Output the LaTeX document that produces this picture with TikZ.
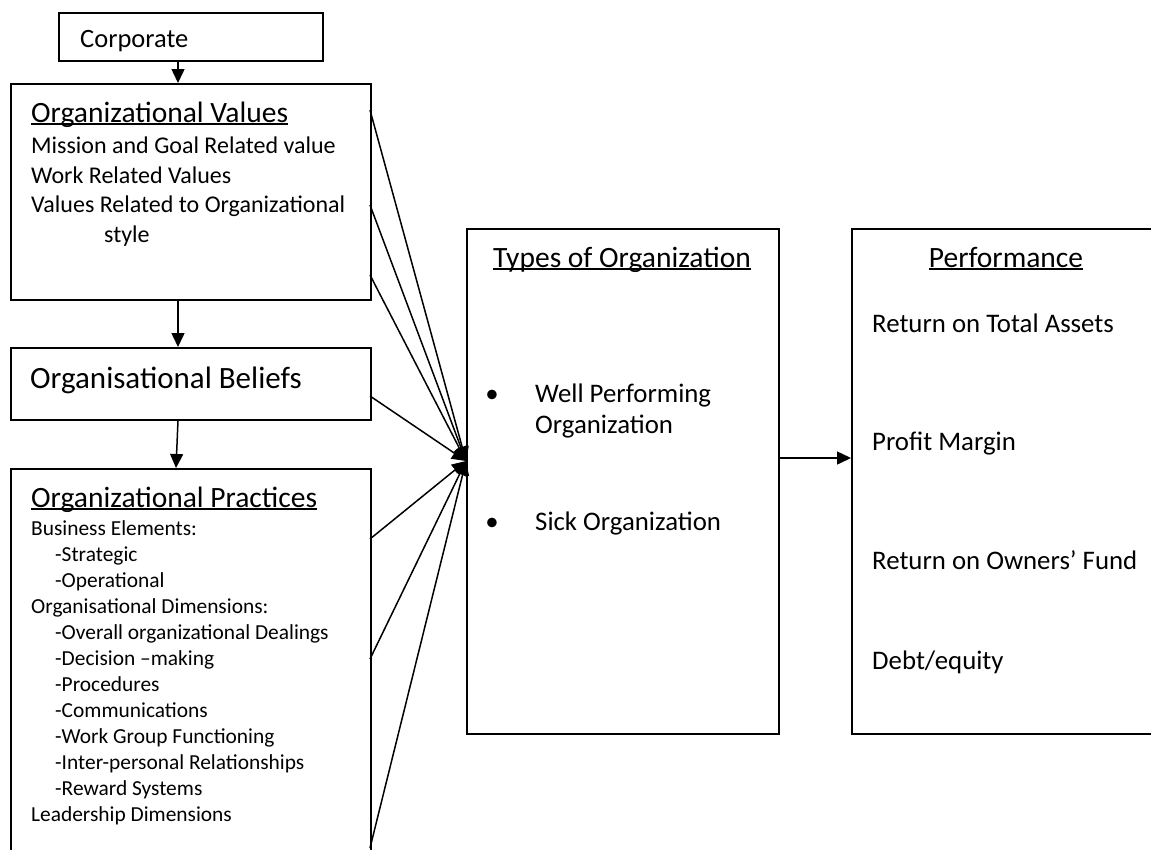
\documentclass[tikz,border=0pt]{standalone}
\usepackage{fontspec}
\setmainfont{Carlito}
\usetikzlibrary{arrows.meta,positioning}
\newcommand{\thickul}[1]{\leavevmode\setbox0\hbox{#1}\rlap{\copy0}\rule[-3pt]{\wd0}{1.6pt}}
\tikzset{>={Triangle[length=14pt,width=13pt]}}
\tikzset{%
  box/.style={draw, line width=1.5pt, inner sep=0pt, anchor=north west},
  txt/.style={anchor=base west, inner sep=0pt, font=\fontsize{24}{29}\selectfont},
  bigtxt/.style={anchor=base west, inner sep=0pt, font=\fontsize{26.8}{32}\selectfont},
  head/.style={anchor=base west, inner sep=0pt, font=\fontsize{29.5}{35}\selectfont},
  small/.style={anchor=base west, inner sep=0pt, font=\fontsize{21.4}{26}\selectfont},
  link/.style={->, line width=1.5pt},
}

\begin{document}
\begin{tikzpicture}[x=1pt, y=-1pt]

  \useasboundingbox (0,0) rectangle (1151,849);
  \clip (0,0) rectangle (1151,849);

  % the boxes
  \node[box, minimum width=264pt, minimum height=48pt] (corp) at (58,12) {};
  \node[box, minimum width=360pt, minimum height=216pt] (values) at (10,83) {};
  \node[box, minimum width=360pt, minimum height=72pt] (beliefs) at (10,347) {};
  \node[box, minimum width=360pt, minimum height=420pt] (practices) at (10,468) {};
  \node[box, minimum width=312pt, minimum height=505pt] (types) at (466,228) {};
  \node[box, minimum width=330pt, minimum height=505pt] (perf) at (851,228) {};

  % corporate
  \node[bigtxt, font=\fontsize{26.5}{32}\selectfont] (corptxt) at (80,47) {Corporate};

  % values
  \node[head] (valhead) at (31,122) {\thickul{Organizational Values}};
  \node[txt] (val1) at (31,153) {Mission and Goal Related value};
  \node[txt] (val2) at (31,183) {Work Related Values};
  \node[txt] (val3) at (31,212) {Values Related to Organizational};
  \node[txt] (val4) at (104,242) {style};

  % beliefs
  \node[head, font=\fontsize{31}{36}\selectfont] (belhead) at (30,388) {Organisational Beliefs};

  % practices
  \node[head] (prahead) at (31,507) {\thickul{Organizational Practices}};
  \node[small] (pra1) at (31,535) {Business Elements:};
  \node[small] (pra2) at (55,561) {-Strategic};
  \node[small] (pra3) at (55,587) {-Operational};
  \node[small] (pra4) at (31,613) {Organisational Dimensions:};
  \node[small] (pra5) at (55,639) {-Overall organizational Dealings};
  \node[small] (pra6) at (55,665) {-Decision –making};
  \node[small] (pra7) at (55,691) {-Procedures};
  \node[small] (pra8) at (55,717) {-Communications};
  \node[small] (pra9) at (55,743) {-Work Group Functioning};
  \node[small] (pra10) at (55,769) {-Inter-personal Relationships};
  \node[small] (pra11) at (55,795) {-Reward Systems};
  \node[small] (pra12) at (31,821) {Leadership Dimensions};

  % types of organization
  \node[head, anchor=base] (typhead) at (622,267) {\thickul{Types of Organization}};
  \node[bigtxt, anchor=base] (dot1) at (492,402) {\textbullet};
  \node[bigtxt] (typ1) at (535,402) {Well Performing};
  \node[bigtxt] (typ2) at (535,433) {Organization};
  \node[bigtxt, anchor=base] (dot2) at (492,530) {\textbullet};
  \node[bigtxt] (typ3) at (535,530) {Sick Organization};

  % performance
  \node[head, anchor=base] (perfhead) at (1006,267) {\thickul{Performance}};
  \node[bigtxt] (perf1) at (872,332) {Return on Total Assets};
  \node[bigtxt] (perf2) at (872,450) {Profit Margin};
  \node[bigtxt] (perf3) at (872,569) {Return on Owners’ Fund};
  \node[bigtxt] (perf4) at (872,669) {Debt/equity};

  % where the arrows leave and meet
  \coordinate (hub) at (466,461);
  \coordinate (v1) at (370,110);
  \coordinate (v2) at (370,205);
  \coordinate (v3) at (370,275);
  \coordinate (b1) at (370,396);
  \coordinate (p1) at (370,539);
  \coordinate (p2) at (370,659);
  \coordinate (p3) at (370,848);
  \coordinate (tmid) at (778,458);

  % down the left column
  \draw[link] (corp.south -| 178,0) -- (values.north -| 178,0);
  \draw[link] (values.south -| 178,0) -- (beliefs.north -| 178,0);
  \draw[link] (beliefs.south -| 178,0) -- (practices.north -| 176,0);

  % into the types box
  \foreach \src in {v1,v2,v3,b1,p1,p2,p3}
    \draw[link] (\src) -- (hub);

  \draw[link] (tmid) -- (perf.west |- tmid);

\end{tikzpicture}
\end{document}
